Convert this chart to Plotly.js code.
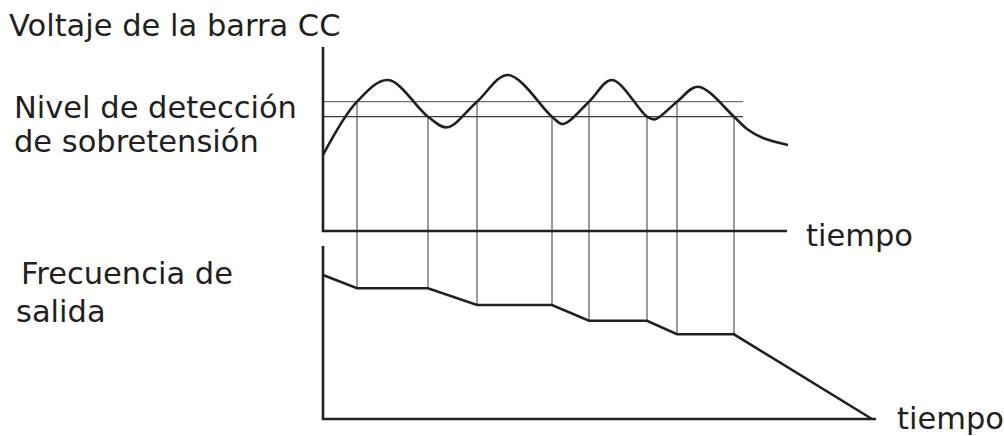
<!DOCTYPE html>
<html>
<head>
<meta charset="utf-8">
<script src="https://cdn.plot.ly/plotly-3.0.1.min.js"></script>
<style>html,body{margin:0;padding:0;background:#fff;}#chart{width:1004px;height:436px;}</style>
</head>
<body>
<div id="chart"></div>
<script>
// ---- Data (schematic units: time t, bus voltage v, output frequency f) ----
const voltTime   = [0, 34, 65, 105, 124, 154, 185, 229, 240, 266, 289, 324, 332, 354, 375, 411, 424, 440, 465];
const voltValue  = [76, 129.3, 151, 114.3, 103.7, 129.3, 156, 114.3, 107, 129.3, 151, 114.3, 111.7, 129.3, 144.3, 114.3, 102, 93, 86];

const levelHigh = 129.3;   // upper over-voltage detection level
const levelLow  = 114.3;   // lower level
const levelEnd  = 420;     // time where the level lines stop

const freqTime  = [0, 34, 105, 154, 229, 266, 324, 354, 411, 549];
const freqValue = [144, 130.7, 130.7, 114, 114, 98.3, 98.3, 84.7, 84.7, 0];

// crossing instants: up-crossings of the high level, down-crossings of the low level
const crossTime  = [34, 105, 154, 229, 266, 324, 354, 411];
const crossLevel = ['high', 'low', 'high', 'low', 'high', 'low', 'high', 'low'];

// axis extents
const voltAxisTop = 184, voltAxisEnd = 464;
const freqAxisTop = 173, freqAxisEnd = 553;

const labels = {
  volt: 'Voltaje de la barra CC',
  level1: 'Nivel de detección',
  level2: 'de sobretensión',
  freq1: 'Frecuencia de',
  freq2: 'salida',
  time: 'tiempo'
};

// ---- Axes ranges ----
const xRange  = [-323, 681];
const yRange  = [-205, 231];
const y2Range = [-17, 419];

function freqToVolt(f) {            // map a y2 value to the y axis through the two ranges
  const frac = (f - y2Range[0]) / (y2Range[1] - y2Range[0]);
  return yRange[0] + frac * (yRange[1] - yRange[0]);
}
function freqAt(t) {                 // frequency value at time t, read from the series
  for (let i = 0; i < freqTime.length - 1; i++) {
    if (t >= freqTime[i] && t <= freqTime[i + 1]) {
      const a = (t - freqTime[i]) / (freqTime[i + 1] - freqTime[i]);
      return freqValue[i] + a * (freqValue[i + 1] - freqValue[i]);
    }
  }
  return freqValue[freqValue.length - 1];
}

const ink = '#231f20';
const grey = '#666666';

// vertical connecting lines
const vx = [], vy = [];
crossTime.forEach((t, i) => {
  const lv = crossLevel[i] === 'high' ? levelHigh : levelLow;
  vx.push(t, t, null);
  vy.push(lv, freqToVolt(freqAt(t)), null);
});

const traces = [
  { x: vx, y: vy, mode: 'lines', line: { color: grey, width: 1.3 }, hoverinfo: 'skip' },
  { x: [0, levelEnd], y: [levelHigh, levelHigh], mode: 'lines', line: { color: '#707070', width: 1.3 }, hoverinfo: 'skip' },
  { x: [0, levelEnd], y: [levelLow, levelLow], mode: 'lines', line: { color: '#3a3a3a', width: 1.3 }, hoverinfo: 'skip' },
  // voltage axes
  { x: [0, 0, voltAxisEnd], y: [voltAxisTop, 0, 0], mode: 'lines', line: { color: ink, width: 2.6 }, hoverinfo: 'skip' },
  // voltage curve
  { x: voltTime, y: voltValue, mode: 'lines', line: { color: ink, width: 2.6, shape: 'spline', smoothing: 1 }, hoverinfo: 'skip' },
  // frequency axes
  { x: [0, 0, freqAxisEnd], y: [freqAxisTop, 0, 0], yaxis: 'y2', mode: 'lines', line: { color: ink, width: 2.6 }, hoverinfo: 'skip' },
  // frequency curve
  { x: freqTime, y: freqValue, yaxis: 'y2', mode: 'lines', line: { color: ink, width: 2.6 }, hoverinfo: 'skip' }
];

const W = 1004, H = 436;
const font = { family: 'DejaVu Sans, Liberation Sans, Arial, sans-serif', size: 30.5, color: ink };
function ann(text, px, pyCenter) {
  return { text: text, xref: 'paper', yref: 'paper', x: px / W, y: 1 - pyCenter / H,
           xanchor: 'left', yanchor: 'middle', showarrow: false, font: font };
}

const layout = {
  width: W, height: H,
  margin: { l: 0, r: 0, t: 0, b: 0 },
  paper_bgcolor: '#ffffff', plot_bgcolor: '#ffffff',
  showlegend: false,
  xaxis: { range: xRange, visible: false, fixedrange: true },
  yaxis: { range: yRange, visible: false, fixedrange: true },
  yaxis2: { range: y2Range, visible: false, overlaying: 'y', fixedrange: true },
  annotations: [
    ann(labels.volt, 7, 26),
    ann(labels.level1, 12, 107),
    ann(labels.level2, 12, 142),
    ann(labels.freq1, 19, 273),
    ann(labels.freq2, 14, 311.5),
    ann(labels.time, 804, 235),
    ann(labels.time, 895, 418)
  ]
};

Plotly.newPlot('chart', traces, layout, { staticPlot: true, displayModeBar: false });
</script>
</body>
</html>
